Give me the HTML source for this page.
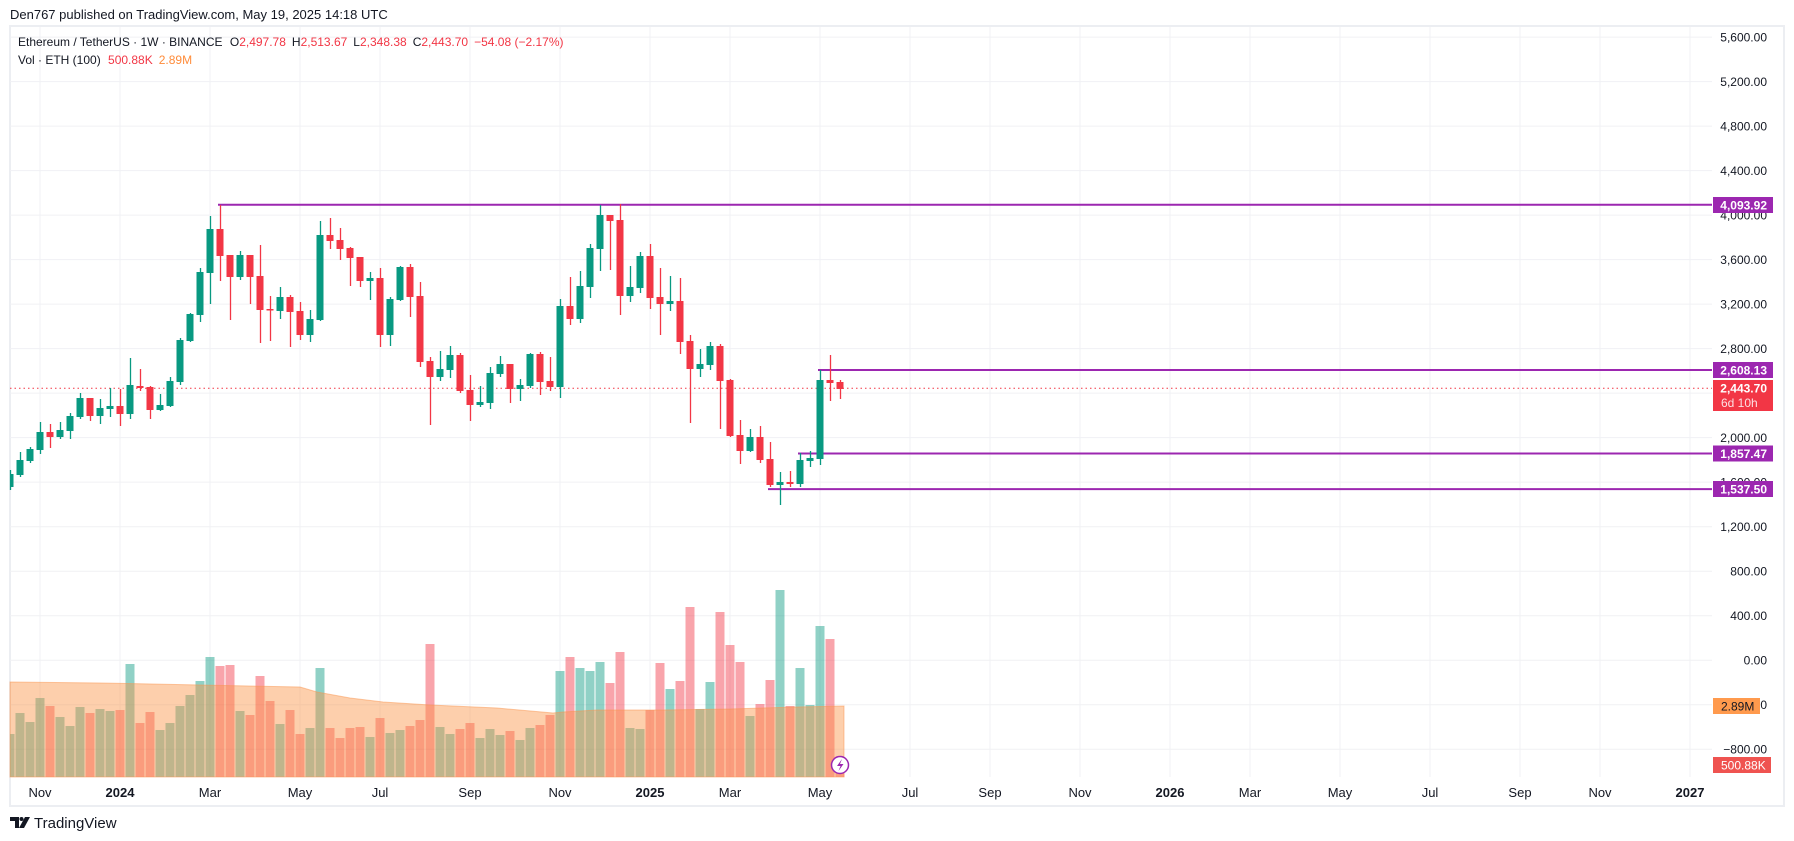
<!DOCTYPE html>
<html><head><meta charset="utf-8"><style>
html,body{margin:0;padding:0;background:#fff;width:1794px;height:841px;overflow:hidden}
svg{display:block;font-family:"Liberation Sans",sans-serif}
</style></head><body>
<svg id="s" width="1794" height="841" xmlns="http://www.w3.org/2000/svg">
<rect width="1794" height="841" fill="#fff"/>
<text x="10" y="19" font-size="13" fill="#131722">Den767 published on TradingView.com, May 19, 2025 14:18 UTC</text>
<rect x="10" y="26" width="1774" height="780" fill="none" stroke="#eceef2" stroke-width="2"/>
<g id="grid" stroke="#f0f1f4" stroke-width="1"></g>
<g id="vol"></g>
<polygon id="ma" fill="rgba(250,146,66,0.44)" stroke="rgba(250,150,80,0.5)" stroke-width="1"/>
<line x1="10" y1="388.3" x2="1712" y2="388.3" stroke="#f23645" stroke-width="1" stroke-dasharray="1.5,3"/>
<g stroke="#9c27b0" stroke-width="2">
<line x1="218" y1="204.7" x2="1712" y2="204.7"/>
<line x1="818" y1="370" x2="1712" y2="370"/>
<line x1="798" y1="453.5" x2="1712" y2="453.5"/>
<line x1="768" y1="489.1" x2="1712" y2="489.1"/>
</g>
<g id="candles"></g>
<g font-size="12" fill="#131722" text-anchor="end">
<text x="1767" y="41.5">5,600.00</text>
<text x="1767" y="86">5,200.00</text>
<text x="1767" y="130.5">4,800.00</text>
<text x="1767" y="175">4,400.00</text>
<text x="1767" y="219.5">4,000.00</text>
<text x="1767" y="264">3,600.00</text>
<text x="1767" y="308.5">3,200.00</text>
<text x="1767" y="353">2,800.00</text>
<text x="1767" y="442">2,000.00</text>
<text x="1767" y="486.5">1,600.00</text>
<text x="1767" y="531">1,200.00</text>
<text x="1767" y="575.5">800.00</text>
<text x="1767" y="620">400.00</text>
<text x="1767" y="664.5">0.00</text>
<text x="1767" y="709">−400.00</text>
<text x="1767" y="753.5">−800.00</text>
</g>
<g font-size="12" fill="#fff" font-weight="bold">
<rect x="1713" y="197" width="60" height="16" fill="#9c27b0"/><text x="1767" y="209.5" text-anchor="end">4,093.92</text>
<rect x="1713" y="362" width="60" height="16" fill="#9c27b0"/><text x="1767" y="374.5" text-anchor="end">2,608.13</text>
<rect x="1713" y="380" width="60" height="31" fill="#f23645"/><text x="1767" y="392.5" text-anchor="end">2,443.70</text>
<text x="1721" y="407" font-weight="normal" fill="#fde0e3">6d 10h</text>
<rect x="1713" y="445.5" width="60" height="16" fill="#9c27b0"/><text x="1767" y="458" text-anchor="end">1,857.47</text>
<rect x="1713" y="481" width="60" height="16" fill="#9c27b0"/><text x="1767" y="493.5" text-anchor="end">1,537.50</text>
<rect x="1713" y="698" width="47" height="16" fill="#ff9a4d"/><text x="1721" y="710.5" fill="#131722" font-weight="normal">2.89M</text>
<rect x="1713" y="757" width="58" height="16" fill="#ef5350"/><text x="1721" y="769.5" font-weight="normal">500.88K</text>
</g>
<g font-size="13" fill="#131722" text-anchor="middle">
<text x="40" y="797">Nov</text><text x="120" y="797" font-weight="bold">2024</text><text x="210" y="797">Mar</text><text x="300" y="797">May</text><text x="380" y="797">Jul</text><text x="470" y="797">Sep</text><text x="560" y="797">Nov</text><text x="650" y="797" font-weight="bold">2025</text><text x="730" y="797">Mar</text><text x="820" y="797">May</text><text x="910" y="797">Jul</text><text x="990" y="797">Sep</text><text x="1080" y="797">Nov</text><text x="1170" y="797" font-weight="bold">2026</text><text x="1250" y="797">Mar</text><text x="1340" y="797">May</text><text x="1430" y="797">Jul</text><text x="1520" y="797">Sep</text><text x="1600" y="797">Nov</text><text x="1690" y="797" font-weight="bold">2027</text>
</g>
<rect x="10" y="20" width="0" height="0"/>
<g font-size="12">
<text x="18" y="46" fill="#131722">Ethereum / TetherUS · 1W · BINANCE <tspan dx="4">O</tspan><tspan fill="#f23645">2,497.78</tspan><tspan dx="6">H</tspan><tspan fill="#f23645">2,513.67</tspan><tspan dx="6">L</tspan><tspan fill="#f23645">2,348.38</tspan><tspan dx="6">C</tspan><tspan fill="#f23645">2,443.70</tspan><tspan dx="6" fill="#f23645">−54.08 (−2.17%)</tspan></text>
<text x="18" y="64" fill="#131722">Vol · ETH (100) <tspan dx="4" fill="#f23645">500.88K</tspan><tspan dx="6" fill="#ff8c3a">2.89M</tspan></text>
</g>
<circle cx="840" cy="765" r="8.5" fill="#fff" stroke="#9c27b0" stroke-width="1.5"/>
<path d="M842 759 L837 766 L840.5 766 L838.5 771 L843.5 764 L840 764 Z" fill="#9c27b0"/>
<g transform="translate(10,815)" fill="#131722"><path d="M0 2 H9 V13 H5 V6 H0 Z"/><circle cx="11.5" cy="4" r="2"/><path d="M15 2 H20 L14 13 H9 Z"/></g>
<text x="34" y="828" font-size="15" fill="#131722">TradingView</text>
</svg>
<script>
var NS="http://www.w3.org/2000/svg";
function el(p,t,a){var e=document.createElementNS(NS,t);for(var k in a)e.setAttribute(k,a[k]);p.appendChild(e);return e;}
var g=document.getElementById('grid');
for(var p=5600;p>=-800;p-=400){var y=660.2-p*0.11126;el(g,'line',{x1:10,x2:1712,y1:y,y2:y});}
[40,120,210,300,380,470,560,650,730,820,910,990,1080,1170,1250,1340,1430,1520,1600,1690].forEach(function(x){el(g,'line',{x1:x,x2:x,y1:27,y2:777});});
var C=[[470,474,487,490,'G'],[452,460,475,477,'G'],[447,449,461,463,'G'],[422,432,450,454,'G'],[424,432,437,448,'R'],[422,430,437,439,'G'],[413,416,431,439,'G'],[393,398,417,419,'G'],[398,398,416,421,'R'],[399,408,416,424,'G'],[388,406,409,417,'G'],[389,406,414,426,'R'],[358,385,414,419,'G'],[369,386,388,391,'R'],[386,387,410,419,'R'],[394,405,410,411,'G'],[377,381,406,407,'G'],[338,340,382,385,'G'],[313,314,341,342,'G'],[268,272,315,322,'G'],[216,229,273,304,'G'],[205,229,256,281,'R'],[255,255,277,320,'R'],[251,255,277,280,'G'],[255,255,277,304,'R'],[245,276,310,343,'R'],[296,309,310,341,'R'],[287,297,311,319,'G'],[295,297,312,347,'R'],[302,311,335,340,'R'],[310,319,335,342,'G'],[221,235,320,321,'G'],[218,235,241,249,'R'],[228,240,249,260,'R'],[247,248,258,286,'R'],[257,257,281,287,'R'],[272,278,281,300,'G'],[268,278,335,347,'R'],[297,299,335,346,'G'],[266,267,300,301,'G'],[264,267,297,317,'R'],[282,296,362,367,'R'],[357,361,377,425,'R'],[351,369,377,381,'G'],[346,355,370,378,'G'],[353,355,391,393,'R'],[375,390,405,421,'R'],[386,402,405,407,'G'],[367,373,403,409,'G'],[356,364,374,377,'G'],[364,364,389,403,'R'],[379,385,389,401,'G'],[353,354,386,388,'G'],[352,354,382,395,'R'],[357,381,387,391,'R'],[299,306,387,398,'G'],[277,306,319,325,'R'],[271,286,319,323,'G'],[244,248,287,298,'G'],[205,215,249,271,'G'],[215,215,221,270,'R'],[204,220,296,315,'R'],[266,287,296,302,'G'],[252,256,288,293,'G'],[244,256,298,309,'R'],[268,297,304,335,'R'],[276,301,304,311,'G'],[278,301,342,354,'R'],[335,341,369,423,'R'],[349,364,369,377,'G'],[342,346,365,370,'G'],[344,346,381,429,'R'],[379,380,436,437,'R'],[420,435,451,464,'R'],[429,437,451,452,'G'],[426,437,460,463,'R'],[442,459,485,487,'R'],[472,482,485,505,'G'],[471,482,484,487,'R'],[453,460,484,487,'G'],[451,458,461,467,'G'],[370,380,459,465,'G'],[355,380,383,401,'R'],[380,382,389,399,'R']];
var V=[734,713,722,698,706,717,726,707,713,709,711,710,664,723,712,730,723,706,695,681,657,666,665,711,715,676,701,724,710,734,728,668,728,738,728,727,737,718,733,730,726,720,644,727,734,729,723,738,729,735,731,740,728,725,715,671,657,668,671,662,683,652,728,729,710,663,689,681,607,709,682,612,645,662,716,704,680,590,706,668,705,626,639,760];
var cg=document.getElementById('candles'),vg=document.getElementById('vol');
C.forEach(function(c,i){var x=10+10*i;var col=c[4]=='G'?'#089981':'#f23645';
 var vx=Math.max(10,x-4.5);var vw=x-4.5<10?x+4.5-10:9;
 el(vg,'rect',{x:vx,y:V[i],width:vw,height:777-V[i],fill:c[4]=='G'?'rgba(8,153,129,0.45)':'rgba(242,54,69,0.45)'});
 var bx=Math.max(10,x-3.5),bw=x-3.5<10?x+3.5-10:7;
 if(x>=10) el(cg,'line',{x1:x+0.5,x2:x+0.5,y1:c[0],y2:c[3],stroke:col,'stroke-width':1.3});
 el(cg,'rect',{x:bx,y:c[1],width:bw,height:Math.max(1.5,c[2]-c[1]),fill:col});
});
var pts=[[10,682],[100,683],[200,685],[300,687],[317,692],[350,698],[383,702],[430,705],[497,708],[553,713],[563,712],[597,710],[663,710],[730,709],[797,707],[844,706]];
var s=pts.map(function(p){return p.join(',')}).join(' ')+' 844,777 10,777';
document.getElementById('ma').setAttribute('points',s);
</script>
</body></html>
